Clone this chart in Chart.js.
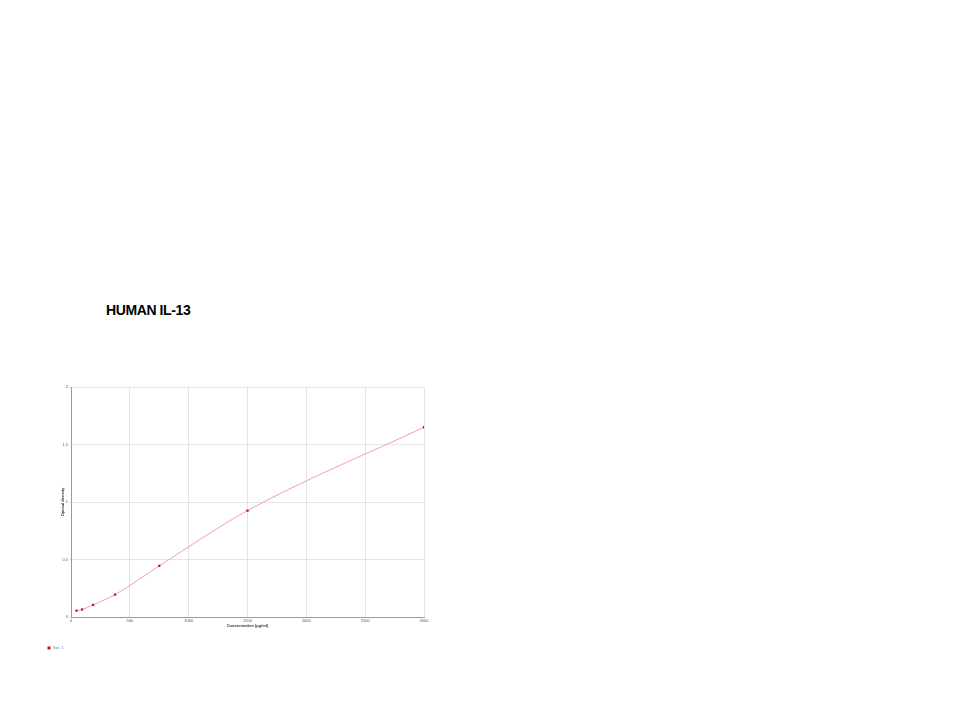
<!DOCTYPE html>
<html>
<head>
<meta charset="utf-8">
<script src="https://cdn.jsdelivr.net/npm/chart.js@4"></script>
<style>
  body { margin: 0; background: #fff; width: 960px; height: 720px; position: relative; overflow: hidden; }
  #title { position: absolute; left: 106px; top: 302px; font: bold 14px "Liberation Sans", Arial, sans-serif; color: #000; letter-spacing: -0.4px; }
  #wrap { position: absolute; left: 40px; top: 380px; width: 400px; height: 280px; }
</style>
</head>
<body>
<div id="title">HUMAN IL-13</div>
<div id="wrap"><canvas id="myChart"></canvas></div>
<script>
// standard curve values
let concentrations = [46.875, 93.75, 187.5, 375, 750, 1500, 3000];
let odValues = [0.055, 0.065, 0.105, 0.195, 0.445, 0.925, 1.65];
let xTicks = [0, 500, 1000, 1500, 2000, 2500, 3000];
let yTicks = [0, 0.5, 1, 1.5, 2];

let points = [];
for (let i = 0; i < concentrations.length; i++) {
  points.push({ x: concentrations[i], y: odValues[i] });
}

const ctx = document.getElementById('myChart');

new Chart(ctx, {
  type: 'scatter',
  data: {
    datasets: [{
      label: 'Ser. 1',
      data: points,
      showLine: true,
      borderColor: '#f3a0a0',
      borderWidth: 1,
      cubicInterpolationMode: 'monotone',
      pointStyle: 'rect',
      pointRadius: 1.6,
      pointBackgroundColor: '#c0181c',
      pointBorderColor: '#c0181c',
      pointBorderWidth: 0
    }]
  },
  options: {
    responsive: true,
    maintainAspectRatio: false,
    animation: false,
    layout: { padding: { top: 7, right: 16, left: 0, bottom: 0 } },
    plugins: {
      tooltip: { enabled: false },
      legend: {
        position: 'bottom',
        align: 'start',
        labels: {
          usePointStyle: true,
          boxWidth: 6,
          boxHeight: 3,
          padding: 7,
          color: '#4a7fc0',
          font: { size: 4, family: 'Liberation Sans' }
        }
      }
    },
    scales: {
      x: {
        type: 'linear',
        min: 0,
        max: 3000,
        afterBuildTicks: function (scale) { scale.ticks = xTicks.map(v => ({ value: v })); },
        afterFit: function (scale) { scale.height = 22; },
        grid: { color: '#e4e4e4', lineWidth: 1, tickLength: 1 },
        border: { color: '#9a9a9a' },
        ticks: { color: '#555', font: { size: 4, family: 'Liberation Sans' }, padding: 0, maxRotation: 0, callback: v => String(v) },
        title: { display: true, text: 'Concentration (pg/ml)', color: '#333', font: { size: 4, family: 'Liberation Sans', weight: 'bold' }, padding: { top: 0, bottom: 11 } }
      },
      y: {
        min: 0,
        max: 2,
        afterBuildTicks: function (scale) { scale.ticks = yTicks.map(v => ({ value: v })); },
        afterFit: function (scale) { scale.width = 31; },
        grid: { color: '#e4e4e4', lineWidth: 1, tickLength: 2 },
        border: { color: '#9a9a9a' },
        ticks: { color: '#555', font: { size: 4, family: 'Liberation Sans' }, padding: 1, callback: v => String(v) },
        title: { display: true, text: 'Optical density', color: '#333', font: { size: 4, family: 'Liberation Sans', weight: 'bold' }, padding: { top: 20, bottom: 0 } }
      }
    }
  }
});
</script>
</body>
</html>
